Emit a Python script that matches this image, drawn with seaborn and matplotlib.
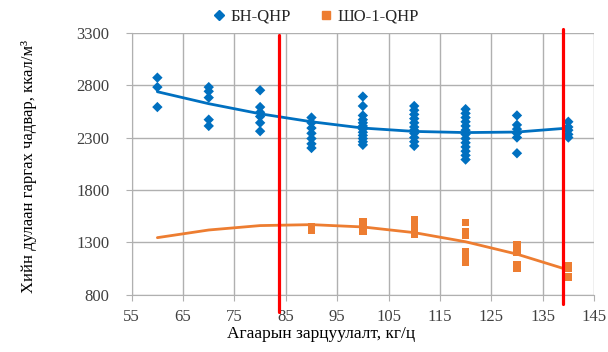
import numpy as np
import pandas as pd
import seaborn as sns
import matplotlib.pyplot as plt
from matplotlib.lines import Line2D

# --- data ---
blue_name = "БН-QHP"
orange_name = "ШО-1-QHP"

bn_x = ([60] * 3 + [70] * 5 + [80] * 6 + [90] * 7 + [100] * 12 + [110] * 11
        + [120] * 13 + [130] * 6 + [140] * 5)
bn_y = [2870, 2780, 2590,
        2780, 2740, 2680, 2470, 2410,
        2750, 2590, 2540, 2500, 2440, 2360,
        2490, 2440, 2390, 2340, 2290, 2240, 2200,
        2690, 2600, 2510, 2470, 2440, 2410, 2380, 2350, 2320, 2290, 2260, 2230,
        2600, 2560, 2520, 2480, 2440, 2400, 2370, 2340, 2300, 2260, 2220,
        2570, 2530, 2490, 2450, 2410, 2370, 2330, 2290, 2250, 2210, 2170, 2130, 2090,
        2510, 2420, 2380, 2340, 2300, 2150,
        2450, 2400, 2370, 2330, 2300]

sho_x = [90] * 2 + [100] * 4 + [110] * 5 + [120] * 7 + [130] * 5 + [140] * 3
sho_y = [1455, 1420,
         1500, 1470, 1440, 1410,
         1520, 1480, 1450, 1410, 1380,
         1490, 1400, 1370, 1210, 1170, 1140, 1110,
         1280, 1250, 1210, 1090, 1050,
         1080, 1050, 970]

# polynomial trend lines as drawn in the chart
trend_x = [60, 70, 80, 90, 100, 110, 120, 130, 140]
bn_trend = [2736, 2622, 2526, 2450, 2390, 2358, 2347, 2352, 2390]
sho_trend = [1346, 1419, 1461, 1470, 1448, 1394, 1307, 1189, 1038]

# red vertical limits
red_x = [83.7, 139]
red_top = [3280, 3330]
red_bottom = [640, 710]

blue = "#0070C0"
orange = "#ED7D31"

df = pd.DataFrame({
    "x": bn_x + sho_x,
    "y": bn_y + sho_y,
    "series": [blue_name] * len(bn_x) + [orange_name] * len(sho_x),
})
trend = pd.DataFrame({
    "x": trend_x + trend_x,
    "y": bn_trend + sho_trend,
    "series": [blue_name] * len(trend_x) + [orange_name] * len(trend_x),
})

sns.set_style("white")
plt.rcParams['font.family'] = ['Liberation Serif', 'DejaVu Serif']

fig = plt.figure(figsize=(6.08, 3.52), dpi=100)
ax = fig.add_axes([0.2166, 0.162, 0.7604, 0.7456])

palette = {blue_name: blue, orange_name: orange}
sns.lineplot(data=trend, x="x", y="y", hue="series", palette=palette,
             linewidth=2.0, legend=False, ax=ax, zorder=3)
sns.scatterplot(data=df, x="x", y="y", hue="series", style="series",
                markers={blue_name: "D", orange_name: "s"}, palette=palette,
                s=28, linewidth=0, legend=False, ax=ax, zorder=4)

for xv, yt, yb in zip(red_x, red_top, red_bottom):
    ax.plot([xv, xv], [yb, yt], color="#FF0000", linewidth=2.3,
            clip_on=False, zorder=5)

ax.set_xlim(55, 145)
ax.set_ylim(800, 3300)
ax.set_xticks(np.arange(55, 146, 10))
ax.set_yticks(np.arange(800, 3301, 500))
ax.grid(True, color="#B0B0B0", linewidth=1.0)
ax.set_axisbelow(True)
for side in ["top", "right"]:
    ax.spines[side].set_visible(False)
ax.spines["left"].set_color("#B0B0B0")
ax.spines["bottom"].set_color("#B0B0B0")
ax.tick_params(axis="both", labelsize=12, colors="#404040", length=4,
               color="#B0B0B0", direction="out", bottom=True, left=True)
ax.tick_params(axis="y", pad=12)
ax.tick_params(axis="x", pad=6)

ax.set_xlabel("Агаарын зарцуулалт, кг/ц", fontsize=12.5, color="black")
ax.set_ylabel("Хийн дулаан гаргах чадвар, ккал/м³", fontsize=12, color="black")
ax.xaxis.set_label_coords(0.41, -0.12)
ax.yaxis.set_label_coords(-0.205, 0.49)

handles = [
    Line2D([], [], linestyle="none", marker="D", markersize=5.5,
           color=blue, label=blue_name),
    Line2D([], [], linestyle="none", marker="s", markersize=6,
           color=orange, label=orange_name),
]
fig.legend(handles=handles, loc="center", bbox_to_anchor=(0.518, 0.952),
           ncol=2, frameon=False, fontsize=12, handletextpad=0.2,
           columnspacing=1.6, handlelength=1.0)

fig.savefig("out.png", dpi=100)
